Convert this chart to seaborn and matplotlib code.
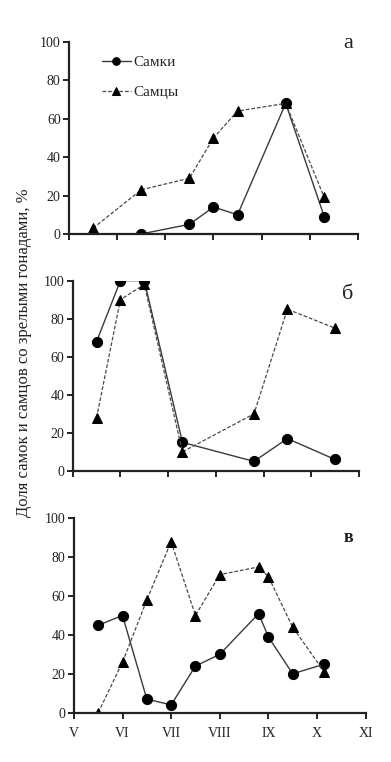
import matplotlib
matplotlib.use("Agg")
import matplotlib.pyplot as plt
import seaborn as sns
import pandas as pd

sns.set_style("ticks")
plt.rcParams['font.family'] = ['Liberation Serif', 'DejaVu Serif']

# months, position 0 = V
months = ["V", "VI", "VII", "VIII", "IX", "X", "XI"]

# panel a
a_f_x = [1.5, 2.5, 3.0, 3.5, 4.5, 5.3]
a_f_y = [0, 5, 14, 10, 68, 9]
a_m_x = [0.5, 1.5, 2.5, 3.0, 3.5, 4.5, 5.3]
a_m_y = [3, 23, 29, 50, 64, 68, 19]

# panel b
b_x = [0.5, 1.0, 1.5, 2.3, 3.8, 4.5, 5.5]
b_f_y = [68, 100, 100, 15, 5, 17, 6]
b_m_y = [28, 90, 98, 10, 30, 85, 75]

# panel c
c_x = [0.5, 1.0, 1.5, 2.0, 2.5, 3.0, 3.8, 4.0, 4.5, 5.15]
c_f_y = [45, 50, 7, 4, 24, 30, 51, 39, 20, 25]
c_m_y = [0, 26, 58, 88, 50, 71, 75, 70, 44, 21]

panels = [
    ("а", a_f_x, a_f_y, a_m_x, a_m_y, [0.1765, 0.693, 0.739, 0.252], (0.965, 0.99), 16, "normal"),
    ("б", b_x, b_f_y, b_x, b_m_y, [0.186, 0.382, 0.732, 0.2497], (0.96, 0.926), 16, "normal"),
    ("в", c_x, c_f_y, c_x, c_m_y, [0.189, 0.0647, 0.746, 0.2551], (0.94, 0.899), 13, "bold"),
]

fig = plt.figure(figsize=(3.91, 7.62), dpi=100)

for i, (lab, fx, fy, mx, my, pos, lpos, lsize, lweight) in enumerate(panels):
    ax = fig.add_axes(pos)
    df_f = pd.DataFrame({"x": fx, "y": fy})
    df_m = pd.DataFrame({"x": mx, "y": my})
    sns.lineplot(data=df_f, x="x", y="y", ax=ax, color="#3a3a3a", lw=1.0,
                 marker="o", markersize=7.3, markerfacecolor="black",
                 markeredgecolor="black", label="Самки", sort=False)
    sns.lineplot(data=df_m, x="x", y="y", ax=ax, color="#4a4a4a", lw=0.9,
                 linestyle=(0, (3, 1.5)), marker="^", markersize=7.5,
                 markerfacecolor="black", markeredgecolor="black",
                 label="Самцы", sort=False)
    ax.set_xlim(0, 6)
    ax.set_ylim(0, 100)
    ax.set_xticks(range(7))
    ax.set_yticks([0, 20, 40, 60, 80, 100])
    if i == 2:
        ax.set_xticklabels(months)
    else:
        ax.set_xticklabels([])
    ax.set_xlabel("")
    ax.set_ylabel("")
    sns.despine(ax=ax)
    for s in ["left", "bottom"]:
        ax.spines[s].set_linewidth(1.6)
        ax.spines[s].set_color("#222222")
    ax.tick_params(axis="both", length=4, width=1.4, color="#222222",
                   labelsize=10, pad=2, labelcolor="#222222")
    ax.tick_params(axis="x", pad=6)
    ax.text(lpos[0], lpos[1], lab, transform=ax.transAxes, ha="center",
            va="center", fontsize=lsize, fontweight=lweight, color="#222222")
    if i == 0:
        leg = ax.legend(loc="upper left", bbox_to_anchor=(0.065, 1.0),
                        frameon=False, fontsize=11, handlelength=1.9,
                        handletextpad=0.2, labelspacing=1.05, markerscale=0.75)
    else:
        ax.get_legend().remove()

fig.text(0.062, 0.537, "Доля самок и самцов со зрелыми гонадами, %",
         rotation=90, ha="center", va="center", fontsize=12, color="#222222")

fig.savefig("out.png", dpi=100)
